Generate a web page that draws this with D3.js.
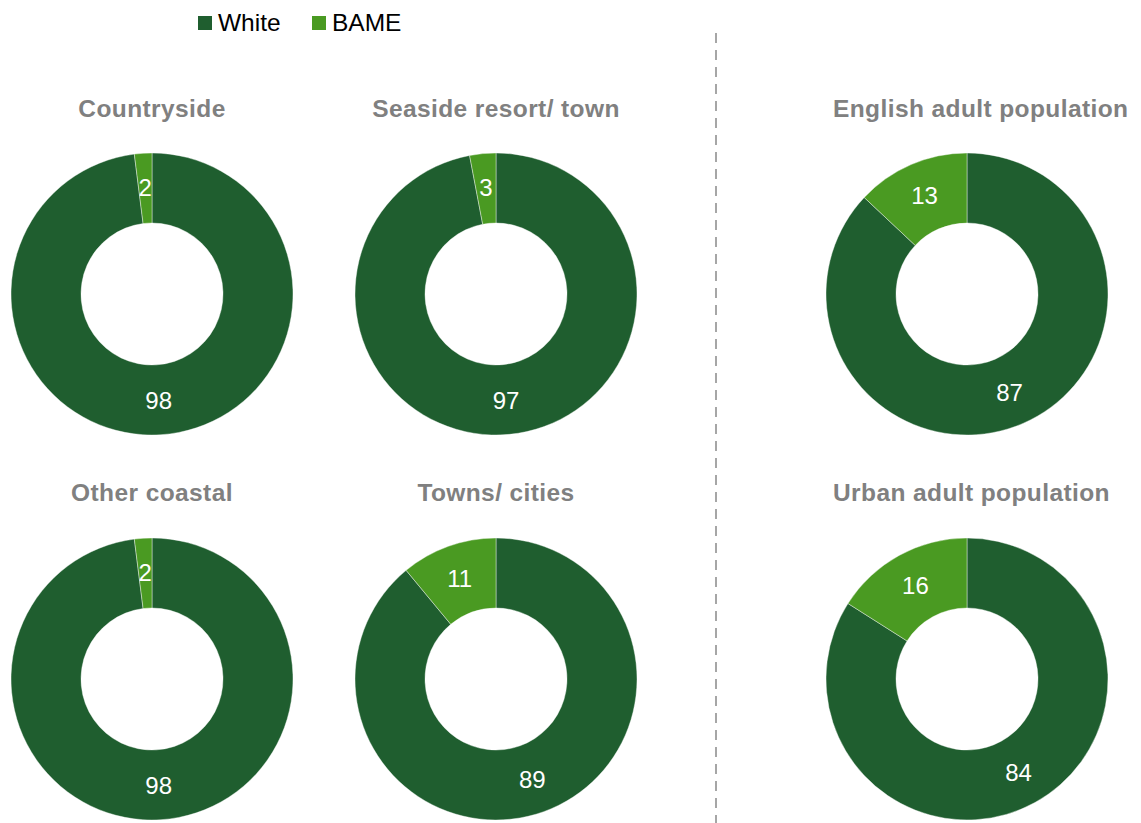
<!DOCTYPE html>
<html>
<head>
<meta charset="utf-8">
<script src="https://cdn.jsdelivr.net/npm/d3@7"></script>
<style>
  body { margin: 0; background: #fff; }
  svg { display: block; font-family: "Liberation Sans", Arial, sans-serif; }
</style>
</head>
<body>
<div id="chart"></div>
<script>
// data
var series = ["White", "BAME"];
var titles = ["Countryside", "Seaside resort/ town", "English adult population",
              "Other coastal", "Towns/ cities", "Urban adult population"];
var white = [98, 97, 87, 98, 89, 84];
var bame  = [2, 3, 13, 2, 11, 16];

var width = 1141, height = 823;
var colors = {White: "#1f5e2f", BAME: "#4a9a22"};

var svg = d3.select("#chart").append("svg")
    .attr("width", width)
    .attr("height", height);

// grid of donuts
var colX = [152, 496, 967];
var rowY = [294, 679];
var titleY = [117, 501];
var outerR = 141, innerR = 71;

var pie = d3.pie().sort(null).value(function(d){ return d.value; });
var arc = d3.arc().innerRadius(innerR).outerRadius(outerR);
var labelArc = d3.arc().innerRadius(107).outerRadius(107);

titles.forEach(function(t, i){
  var cx = colX[i % 3], cy = rowY[Math.floor(i / 3)];
  var vals = [{key: "White", value: white[i]}, {key: "BAME", value: bame[i]}];

  var g = svg.append("g").attr("transform", "translate(" + cx + "," + cy + ")");

  g.selectAll("path")
      .data(pie(vals))
      .enter().append("path")
      .attr("d", arc)
      .attr("fill", function(d){ return colors[d.data.key]; })
      .attr("stroke", "#ffffff")
      .attr("stroke-opacity", 0.5)
      .attr("stroke-width", 0.8);

  g.selectAll("text")
      .data(pie(vals))
      .enter().append("text")
      .attr("transform", function(d){ return "translate(" + labelArc.centroid(d) + ")"; })
      .attr("text-anchor", "middle")
      .attr("dy", "0.36em")
      .attr("fill", "#ffffff")
      .style("font-size", "24px")
      .text(function(d){ return d.data.value; });

  var right = (i % 3) == 2;
  svg.append("text")
      .attr("x", right ? 833 : cx)
      .attr("y", titleY[Math.floor(i / 3)])
      .attr("text-anchor", right ? "start" : "middle")
      .attr("fill", "#808080")
      .style("font-size", "24.5px")
      .style("font-weight", "bold")
      .style("letter-spacing", "0.4px")
      .text(t);
});

// divider
svg.append("line")
    .attr("x1", 716).attr("x2", 716)
    .attr("y1", 33).attr("y2", height)
    .attr("stroke", "#a6a6a6")
    .attr("stroke-width", 2)
    .attr("stroke-dasharray", "10,7");

// legend
var legX = [198, 312];
var legend = svg.selectAll(".legend")
    .data(series)
    .enter().append("g")
    .attr("class", "legend")
    .attr("transform", function(d, i){ return "translate(" + legX[i] + ",0)"; });

legend.append("rect")
    .attr("x", 0).attr("y", 16)
    .attr("width", 14).attr("height", 14)
    .attr("fill", function(d){ return colors[d]; });

legend.append("text")
    .attr("x", 20).attr("y", 31)
    .attr("fill", "#000")
    .style("font-size", "24.5px")
    .text(function(d){ return d; });
</script>
</body>
</html>
